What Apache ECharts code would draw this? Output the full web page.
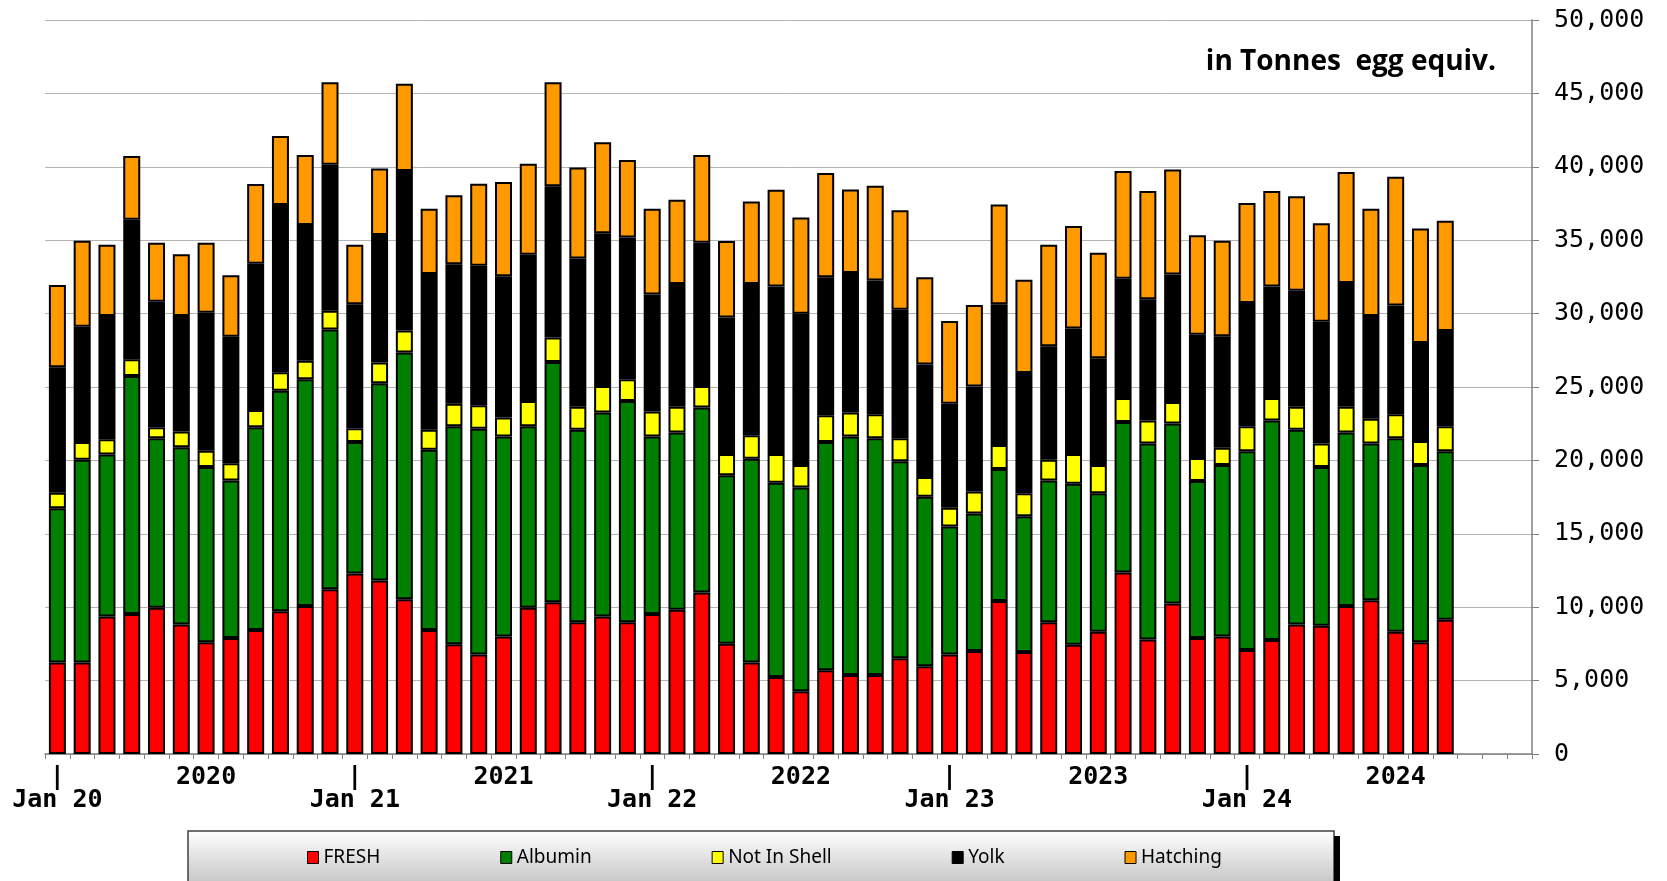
<!DOCTYPE html>
<html lang="en">
<head>
    <meta charset="UTF-8">
    <title>Egg products</title>
    <script src="https://cdn.jsdelivr.net/npm/echarts/dist/echarts.min.js"></script>
    <style>
        * { margin: 0; padding: 0; }
        body { background: #fff; }
        #chart { width: 1667px; height: 881px; }
    </style>
</head>
<body>
    <div id="chart"></div>
    <script>
        // axis runs Jan 2020 .. Dec 2024, data up to Sep 2024
        const years = ['20', '21', '22', '23', '24'];
        const monthNames = ['Jan', 'Feb', 'Mar', 'Apr', 'May', 'Jun', 'Jul', 'Aug', 'Sep', 'Oct', 'Nov', 'Dec'];

        const fresh = [6230, 6230, 9370, 9540, 9970, 8830, 7620, 7910, 8440, 9720, 10080, 11220,
            12290, 11820, 10540, 8440, 7480, 6770, 8010, 9970, 10330, 8970, 9370, 8970,
            9540, 9830, 11000, 7510, 6230, 5240, 4270, 5700, 5380, 5380, 6520, 5980,
            6770, 7020, 10430, 6940, 8970, 7440, 8330, 12360, 7800, 10260, 7910, 8010,
            7090, 7760, 8830, 8730, 10080, 10470, 8330, 7620, 9150];
        const albumin = [10510, 13820, 11040, 16210, 11540, 12070, 11930, 10720, 13820, 15030, 15450, 17700,
            8970, 13430, 16810, 12290, 14850, 15380, 13610, 12360, 16380, 13110, 13890, 15070,
            12080, 12070, 12610, 11470, 13890, 13240, 13890, 15560, 16240, 16130, 13420, 11540,
            8720, 9360, 8980, 9260, 9660, 10970, 9440, 10250, 13350, 12250, 10680, 11680,
            13530, 14960, 13250, 10820, 11820, 10680, 13180, 12070, 11470];
        const notInShell = [1060, 1210, 1030, 1140, 750, 1070, 1110, 1170, 1170, 1250, 1250, 1280,
            930, 1420, 1500, 1350, 1530, 1600, 1310, 1710, 1670, 1570, 1810, 1490,
            1710, 1750, 1460, 1460, 1600, 1960, 1530, 1820, 1640, 1640, 1570, 1350,
            1280, 1500, 1640, 1570, 1420, 2030, 1920, 1640, 1570, 1460, 1570, 1180,
            1710, 1530, 1570, 1600, 1750, 1680, 1640, 1640, 1710];
        const yolk = [8550, 7840, 8400, 9510, 8540, 7870, 9400, 8620, 9970, 11390, 9260, 9940,
            8440, 8690, 10860, 10610, 9510, 9510, 9620, 9970, 10300, 10110, 10400, 9660,
            7970, 8370, 9760, 9300, 10300, 11400, 10300, 9400, 9500, 9110, 8760, 7660,
            7090, 7160, 9580, 8190, 7730, 8550, 7270, 8120, 8260, 8690, 8400, 7580,
            8400, 7590, 7900, 8300, 8440, 7010, 7410, 6660, 6480];
        const hatching = [5590, 5870, 4850, 4340, 4030, 4210, 4770, 4200, 5420, 4700, 4770, 5620,
            4060, 4530, 5950, 4450, 4700, 5590, 6410, 6200, 7080, 6200, 6200, 5270,
            5840, 5730, 5980, 5200, 5620, 6590, 6550, 7090, 5700, 6450, 6770, 5950,
            5630, 5550, 6800, 6340, 6910, 6980, 7190, 7340, 7370, 7150, 6770, 6520,
            6810, 6510, 6450, 6700, 7550, 7300, 8760, 7800, 7510];

        const seriesNames = ['FRESH', 'Albumin', 'Not In Shell', 'Yolk', 'Hatching'];
        const seriesColors = ['#ff0000', '#008000', '#ffff00', '#000000', '#ff9900'];
        const seriesData = [fresh, albumin, notInShell, yolk, hatching];

        const categories = [];
        years.forEach(y => monthNames.forEach(m => categories.push(m + ' ' + y)));

        const chart = echarts.init(document.getElementById('chart'));
        chart.setOption({
            animation: false,
            title: {
                text: 'in Tonnes  egg equiv.',
                right: 166,
                top: 43,
                textStyle: { fontFamily: 'Open Sans', fontWeight: 'bold', fontSize: 28, color: '#000' }
            },
            graphic: [
                { type: 'rect', shape: { x: 1334, y: 836, width: 6, height: 60 }, style: { fill: '#000' } },
                {
                    type: 'rect', z: -1,
                    shape: { x: 188, y: 831, width: 1146, height: 60 },
                    style: {
                        fill: new echarts.graphic.LinearGradient(0, 0, 0, 1, [
                            { offset: 0, color: '#ffffff' },
                            { offset: 1, color: '#bdbdbd' }
                        ]),
                        stroke: '#404040', lineWidth: 1.5
                    }
                }
            ],
            legend: {
                left: 302, top: 843,
                itemWidth: 11, itemHeight: 12, itemGap: 120,
                icon: 'rect',
                itemStyle: { borderColor: '#000', borderWidth: 1 },
                textStyle: { fontFamily: 'Liberation Sans Narrow, Noto Sans', fontSize: 19, color: '#000' },
                data: seriesNames
            },
            grid: { left: 45, right: 135, top: 20, bottom: 127 },
            xAxis: {
                type: 'category',
                data: categories,
                axisLine: { lineStyle: { color: '#808080', width: 1.5 } },
                axisTick: { show: true, interval: 0, length: 5, lineStyle: { color: '#808080' } },
                axisLabel: {
                    interval: 0, margin: 12,
                    formatter: (v) => {
                        const [m, y] = v.split(' ');
                        if (m === 'Jan') return '{bar||}\n{lab|Jan ' + y + '}';
                        if (m === 'Jul') return '{lab|20' + y + '}';
                        return '';
                    },
                    rich: {
                        bar: { fontFamily: 'DejaVu Sans Mono', fontWeight: 'bold', fontSize: 25, lineHeight: 23, color: '#000' },
                        lab: { fontFamily: 'DejaVu Sans Mono', fontWeight: 'bold', fontSize: 25, lineHeight: 23, color: '#000' }
                    }
                }
            },
            yAxis: {
                type: 'value',
                position: 'right',
                min: 0, max: 50000, interval: 5000,
                axisLine: { show: true, lineStyle: { color: '#808080', width: 1.5 } },
                axisTick: { show: true, length: 7, lineStyle: { color: '#808080' } },
                splitLine: { lineStyle: { color: '#b4b4b4', width: 1 } },
                axisLabel: {
                    margin: 22,
                    fontFamily: 'DejaVu Sans Mono', fontSize: 25, color: '#000',
                    formatter: (v) => v.toLocaleString('en-US')
                }
            },
            series: seriesNames.map((name, i) => ({
                name: name,
                type: 'bar',
                stack: 'total',
                barWidth: 17,
                data: seriesData[i],
                itemStyle: { color: seriesColors[i], borderColor: '#000', borderWidth: 2 }
            }))
        });
    </script>
</body>
</html>
